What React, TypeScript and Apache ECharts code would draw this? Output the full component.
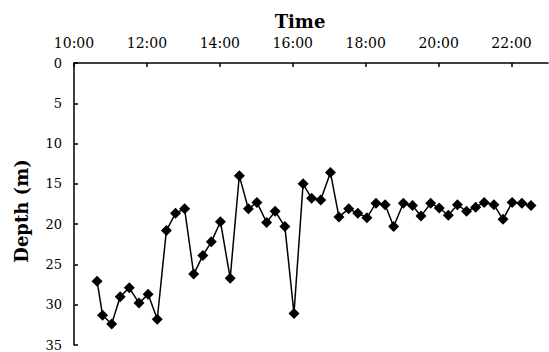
import React, { useEffect, useRef } from "react";
import * as echarts from "echarts";

const times = [
  "10:38", "10:47", "11:02", "11:16", "11:31", "11:47", "12:02", "12:17", "12:32", "12:47",
  "13:02", "13:17", "13:32", "13:46", "14:01", "14:17", "14:32", "14:47", "15:01", "15:17",
  "15:31", "15:47", "16:02", "16:17", "16:31", "16:46", "17:02", "17:16", "17:32", "17:47",
  "18:02", "18:17", "18:32", "18:46", "19:02", "19:17", "19:31", "19:47", "20:01", "20:16",
  "20:31", "20:46", "21:01", "21:15", "21:31", "21:46", "22:01", "22:17", "22:32",
];
const depths = [
  27.1, 31.3, 32.4, 29.0, 27.9, 29.8, 28.7, 31.8, 20.8, 18.65,
  18.1, 26.2, 23.9, 22.2, 19.7, 26.7, 14.0, 18.1, 17.3, 19.8,
  18.4, 20.3, 31.1, 15.0, 16.8, 17.0, 13.6, 19.1, 18.1, 18.65,
  19.2, 17.4, 17.6, 20.3, 17.4, 17.7, 19.0, 17.4, 18.0, 18.9,
  17.6, 18.4, 17.9, 17.3, 17.6, 19.4, 17.3, 17.4, 17.7,
];
const xTitle = "Time";
const yTitle = "Depth (m)";

const toHours = (s: string) => {
  const [h, m] = s.split(":").map(Number);
  return h + m / 60;
};

const FONT = "DejaVu Serif";

export default function App() {
  const ref = useRef<HTMLDivElement>(null);
  useEffect(() => {
    if (!ref.current) return;
    const chart = echarts.init(ref.current, undefined, { renderer: "svg" });
    const data = times.map((t, i) => [toHours(t), depths[i]]);
    chart.setOption({
      animation: false,
      backgroundColor: "#ffffff",
      grid: { left: 74, right: 1, top: 63, bottom: 7, containLabel: false },
      xAxis: {
        type: "value",
        position: "top",
        min: 10,
        max: 23,
        interval: 2,
        splitLine: { show: false },
        axisLine: { show: true, lineStyle: { color: "#000", width: 1.5 } },
        axisTick: { show: true, inside: true, length: 4, lineStyle: { color: "#000", width: 1.5 } },
        axisLabel: {
          showMaxLabel: false,
          margin: 13,
          color: "#000",
          fontFamily: FONT,
          fontSize: 14,
          formatter: (v: number) => `${v}:00`,
        },
      },
      yAxis: {
        type: "value",
        inverse: true,
        min: 0,
        max: 35,
        interval: 5,
        splitLine: { show: false },
        axisLine: { show: true, lineStyle: { color: "#000", width: 1.5 } },
        axisTick: { show: true, inside: true, length: 4, lineStyle: { color: "#000", width: 1.5 } },
        axisLabel: { margin: 12, color: "#000", fontFamily: FONT, fontSize: 13 },
      },
      graphic: [
        {
          type: "text",
          x: 300,
          y: 21,
          style: {
            text: xTitle,
            font: `bold 18px "${FONT}"`,
            fill: "#000",
            textAlign: "center",
            textVerticalAlign: "middle",
          },
        },
        {
          type: "text",
          x: 21,
          y: 211,
          rotation: Math.PI / 2,
          style: {
            text: yTitle,
            font: `bold 18px "${FONT}"`,
            fill: "#000",
            textAlign: "center",
            textVerticalAlign: "middle",
          },
        },
      ],
      series: [
        {
          type: "line",
          data,
          symbol: "diamond",
          symbolSize: 11,
          showAllSymbol: true,
          lineStyle: { color: "#000", width: 1.5 },
          itemStyle: { color: "#000" },
        },
      ],
    });
    return () => chart.dispose();
  }, []);
  return (
    <div
      ref={ref}
      style={{ position: "fixed", left: 0, top: 0, width: 549, height: 352, background: "#fff" }}
    />
  );
}
